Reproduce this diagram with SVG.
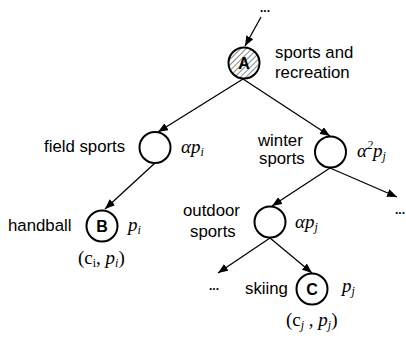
<svg xmlns="http://www.w3.org/2000/svg" width="406" height="339" viewBox="0 0 406 339">
<style>
.lbl{font-family:"Liberation Sans",Arial,sans-serif;font-size:16.8px;fill:#000}
.m{font-family:"Liberation Serif","Times New Roman",serif;font-size:19px;font-style:italic;fill:#000}
.r{font-family:"Liberation Serif","Times New Roman",serif;font-size:19px;fill:#000}
.sub{font-size:12px}
.node{fill:#fff;stroke:#000;stroke-width:2}
.let{font-family:"Liberation Sans",Arial,sans-serif;font-size:16px;font-weight:bold;text-anchor:middle;fill:#000}
.edge{stroke:#000;stroke-width:1.3;fill:none;marker-end:url(#ah)}
.dots{font-family:"Liberation Sans",Arial,sans-serif;font-size:12px;font-weight:bold;fill:#000;text-anchor:middle}
</style>
<defs>
<marker id="ah" viewBox="0 0 10 8" refX="10" refY="4" markerWidth="10" markerHeight="8" markerUnits="userSpaceOnUse" orient="auto">
<path d="M0,0 L10,4 L0,8 z" fill="#000"/>
</marker>
<pattern id="hatch" patternUnits="userSpaceOnUse" width="4" height="4" patternTransform="rotate(45)">
<rect width="4" height="4" fill="#fff"/>
<line x1="0" y1="0" x2="0" y2="4" stroke="#888" stroke-width="2"/>
</pattern>
</defs>
<g id="connectors">
<line class="edge" x1="261" y1="17" x2="245" y2="46"/>
<line class="edge" x1="243" y1="79" x2="158" y2="132"/>
<line class="edge" x1="243" y1="79" x2="330" y2="136"/>
<line class="edge" x1="155" y1="163" x2="105" y2="209"/>
<line class="edge" x1="330" y1="168" x2="272" y2="206"/>
<line class="edge" x1="330" y1="168" x2="397" y2="197"/>
<line class="edge" x1="270" y1="238" x2="218" y2="273"/>
<line class="edge" x1="270" y1="238" x2="312" y2="273"/>
</g>
<g id="top-dots"><text class="dots" x="265" y="12">...</text></g>
<g id="nodeA">
<circle cx="244" cy="63" r="15.5" fill="url(#hatch)" stroke="#000" stroke-width="2"/>
<text class="let" x="244" y="69">A</text>
<text class="lbl" x="275" y="58">sports and</text>
<text class="lbl" x="275" y="78">recreation</text>
</g>
<g id="nodeField">
<circle class="node" cx="155" cy="147.5" r="15.5"/>
<text class="lbl" x="44" y="152">field sports</text>
<text class="m" x="181" y="153">αp<tspan class="sub" dy="3">i</tspan></text>
</g>
<g id="nodeWinter">
<circle class="node" cx="330.5" cy="152" r="15.5"/>
<text class="lbl" x="258" y="146">winter</text>
<text class="lbl" x="259" y="164">sports</text>
<text class="m" x="357" y="157">α<tspan class="sub" dy="-8">2</tspan><tspan dy="8">p</tspan><tspan class="sub" dy="3">j</tspan></text>
</g>
<g id="nodeB">
<circle class="node" cx="102" cy="226" r="15.5"/>
<text class="let" x="102" y="232">B</text>
<text class="lbl" x="8" y="231">handball</text>
<text class="m" x="128" y="231">p<tspan class="sub" dy="3">i</tspan></text>
<text class="r" x="78" y="264">(c<tspan class="sub" dy="3">i</tspan><tspan dy="-3">, </tspan><tspan font-style="italic">p</tspan><tspan class="sub" font-style="italic" dy="3">i</tspan><tspan dy="-3">)</tspan></text>
</g>
<g id="nodeOutdoor">
<circle class="node" cx="270" cy="222" r="15.5"/>
<text class="lbl" x="183" y="216">outdoor</text>
<text class="lbl" x="190" y="237">sports</text>
<text class="m" x="295" y="228">αp<tspan class="sub" dy="3">j</tspan></text>
</g>
<g id="right-dots"><text class="dots" x="400" y="214">...</text></g>
<g id="left-dots"><text class="dots" x="214" y="290">...</text></g>
<g id="nodeC">
<circle class="node" cx="312" cy="289" r="15.5"/>
<text class="let" x="312" y="295">C</text>
<text class="lbl" x="245" y="294">skiing</text>
<text class="m" x="342" y="292">p<tspan class="sub" dy="3">j</tspan></text>
<text class="r" x="286" y="326">(c<tspan class="sub" font-style="italic" dy="3">j</tspan><tspan dy="-3"> , </tspan><tspan font-style="italic">p</tspan><tspan class="sub" font-style="italic" dy="3">j</tspan><tspan dy="-3">)</tspan></text>
</g>
</svg>
